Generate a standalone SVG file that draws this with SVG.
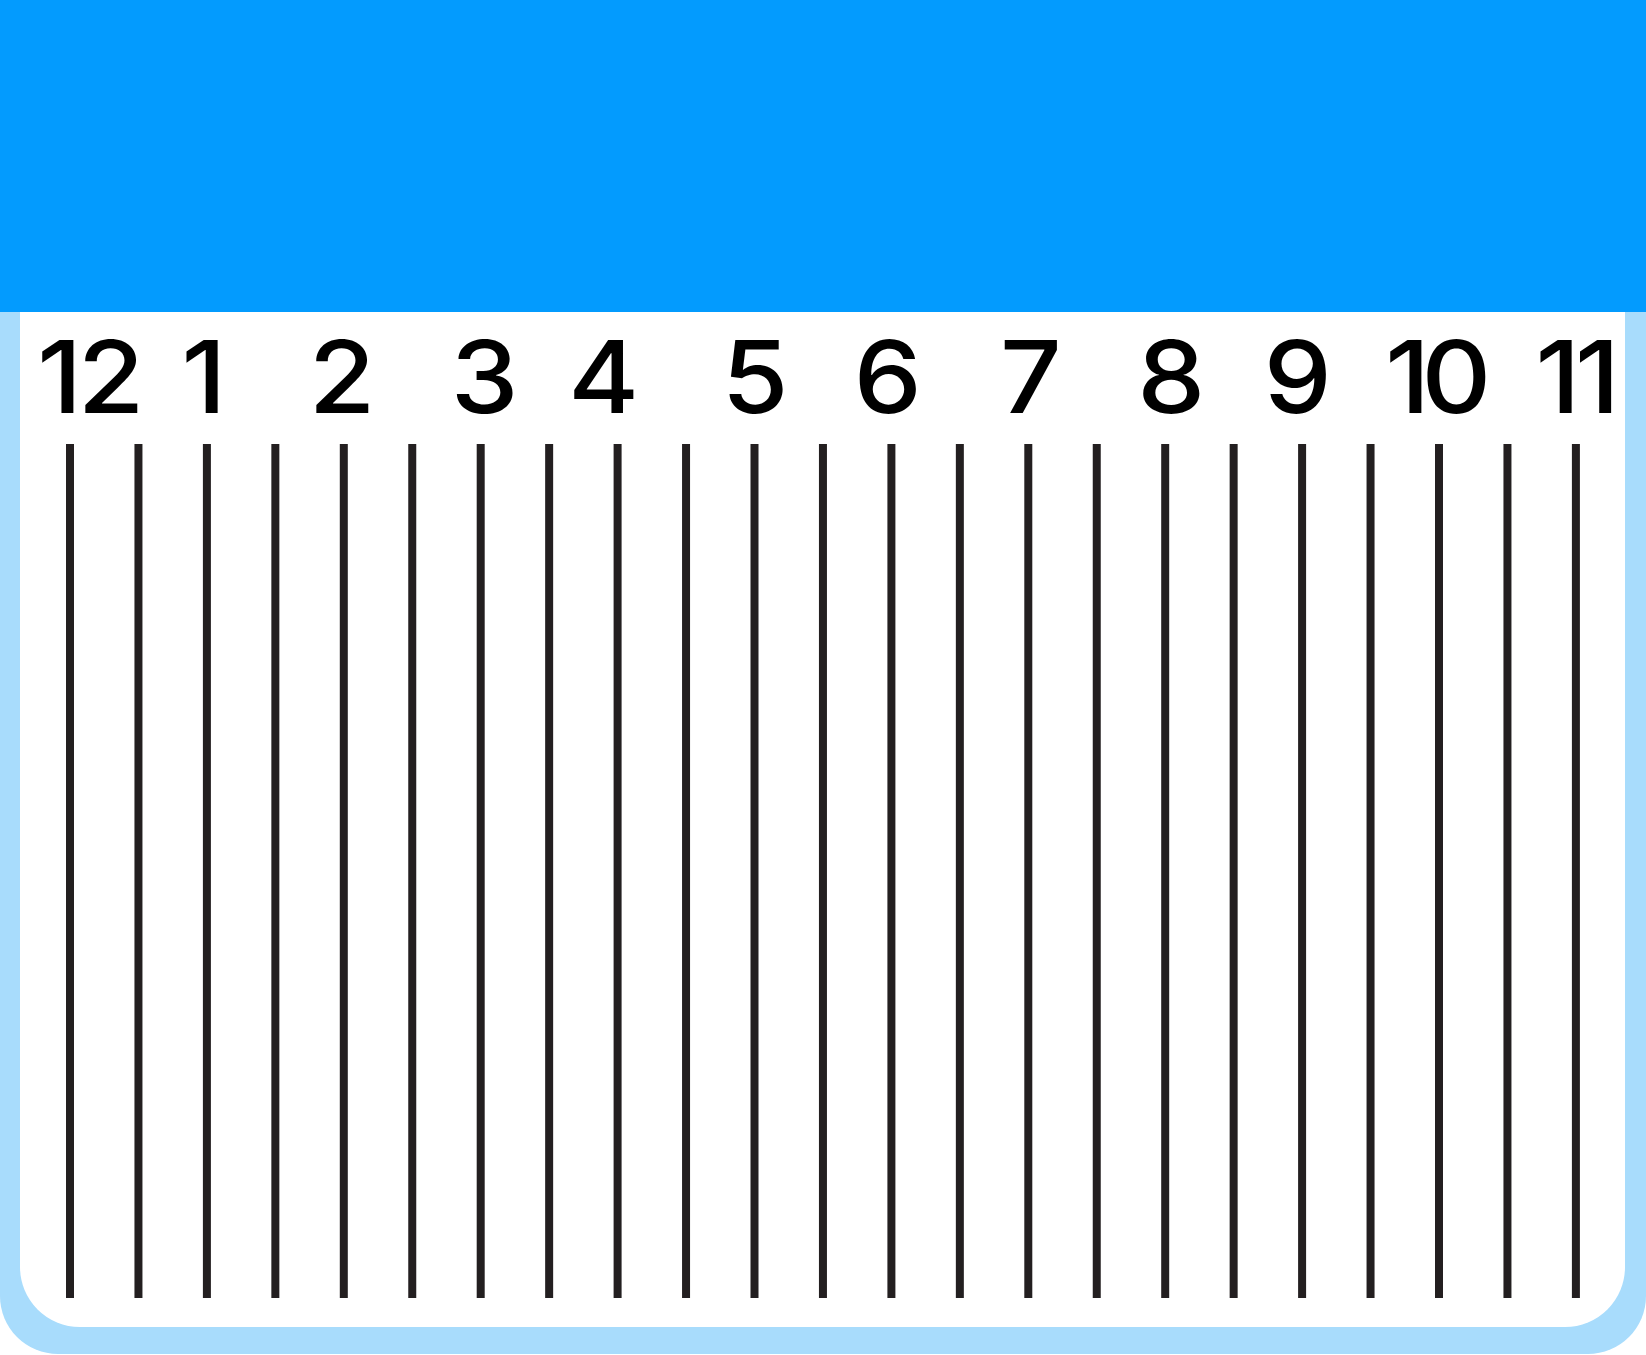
<svg xmlns="http://www.w3.org/2000/svg" width="1646" height="1355" viewBox="0 0 1646 1355">
<style>
.lbl{font-family:Inter,Roboto,"Liberation Sans",Arial,sans-serif;font-size:100px;font-weight:500;fill:#000;text-anchor:middle}
.tick{stroke:#231F20;stroke-width:8}
</style>
<rect width="1646" height="1355" fill="#fff"/>
<g id="frame">
<rect x="0" y="0" width="1646" height="1354" rx="58" fill="#A8DCFC"/>
<rect x="20" y="200" width="1605" height="1127" rx="60" fill="#fff"/>
<rect x="0" y="0" width="1646" height="312" fill="#039BFE"/>
</g>
<g id="labels">
<text class="lbl" transform="translate(88.5,413) scale(1.08,1)" letter-spacing="-4">12</text>
<text class="lbl" transform="translate(204,413) scale(1.08,1)">1</text>
<text class="lbl" transform="translate(342,413) scale(1.08,1)">2</text>
<text class="lbl" transform="translate(484.5,413) scale(1.08,1)">3</text>
<text class="lbl" transform="translate(603.7,413) scale(1.08,1)">4</text>
<text class="lbl" transform="translate(755,413) scale(1.08,1)">5</text>
<text class="lbl" transform="translate(887.7,413) scale(1.08,1)">6</text>
<text class="lbl" transform="translate(1030.8,413) scale(1.08,1)">7</text>
<text class="lbl" transform="translate(1171.3,413) scale(1.08,1)">8</text>
<text class="lbl" transform="translate(1297.7,413) scale(1.08,1)">9</text>
<text class="lbl" transform="translate(1434,413) scale(1.08,1)" letter-spacing="-8">10</text>
<text class="lbl" transform="translate(1575,413) scale(1.08,1)" letter-spacing="-5">11</text>
</g>
<g id="connectors">
<line class="tick" x1="70" y1="444" x2="70" y2="1298"/>
<line class="tick" x1="138.45" y1="444" x2="138.45" y2="1298"/>
<line class="tick" x1="206.9" y1="444" x2="206.9" y2="1298"/>
<line class="tick" x1="275.35" y1="444" x2="275.35" y2="1298"/>
<line class="tick" x1="343.8" y1="444" x2="343.8" y2="1298"/>
<line class="tick" x1="412.25" y1="444" x2="412.25" y2="1298"/>
<line class="tick" x1="480.7" y1="444" x2="480.7" y2="1298"/>
<line class="tick" x1="549.15" y1="444" x2="549.15" y2="1298"/>
<line class="tick" x1="617.6" y1="444" x2="617.6" y2="1298"/>
<line class="tick" x1="686.05" y1="444" x2="686.05" y2="1298"/>
<line class="tick" x1="754.5" y1="444" x2="754.5" y2="1298"/>
<line class="tick" x1="822.95" y1="444" x2="822.95" y2="1298"/>
<line class="tick" x1="891.4" y1="444" x2="891.4" y2="1298"/>
<line class="tick" x1="959.85" y1="444" x2="959.85" y2="1298"/>
<line class="tick" x1="1028.3" y1="444" x2="1028.3" y2="1298"/>
<line class="tick" x1="1096.75" y1="444" x2="1096.75" y2="1298"/>
<line class="tick" x1="1165.2" y1="444" x2="1165.2" y2="1298"/>
<line class="tick" x1="1233.65" y1="444" x2="1233.65" y2="1298"/>
<line class="tick" x1="1302.1" y1="444" x2="1302.1" y2="1298"/>
<line class="tick" x1="1370.55" y1="444" x2="1370.55" y2="1298"/>
<line class="tick" x1="1439" y1="444" x2="1439" y2="1298"/>
<line class="tick" x1="1507.45" y1="444" x2="1507.45" y2="1298"/>
<line class="tick" x1="1575.9" y1="444" x2="1575.9" y2="1298"/>
</g>
</svg>
